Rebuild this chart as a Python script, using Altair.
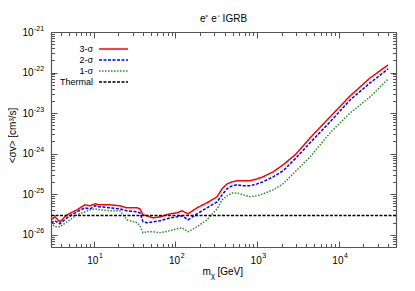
import altair as alt
import pandas as pd

FONT = "Liberation Sans"
AXC = "#555555"

# ---- data ----
mass = [3.0, 3.36, 3.86, 4.71, 6.24, 7.82, 9.0, 10.4, 11.9, 15.8, 21.0, 25.5,
        33.9, 36.8, 40.1, 44.9, 53.1, 64.7, 85.9, 104.5, 120.0, 142.6, 183.6,
        243.0, 323.0, 372.0, 428.0, 492.0, 566.0, 671.0, 818.0, 996.0, 1180.0,
        1564.0, 2073.0, 2911.0, 4440.0, 7800.0, 13700.0, 24100.0, 40000.0]
sigma3 = [2.34e-26, 2.77e-26, 2.09e-26, 3.11e-26, 4.13e-26, 5.48e-26, 5.18e-26,
          5.81e-26, 5.48e-26, 5.48e-26, 5.18e-26, 4.62e-26, 4.62e-26, 4.36e-26,
          3.11e-26, 2.94e-26, 2.62e-26, 2.77e-26, 3.29e-26, 3.48e-26, 3.90e-26,
          3.29e-26, 4.62e-26, 6.14e-26, 8.63e-26, 1.36e-25, 1.80e-25, 2.02e-25,
          2.14e-25, 2.14e-25, 2.14e-25, 2.39e-25, 2.69e-25, 3.56e-25, 5.30e-25,
          9.33e-25, 2.45e-24, 8.05e-24, 2.65e-23, 7.36e-23, 1.54e-22]
sigma2 = [1.98e-26, 2.21e-26, 1.87e-26, 2.62e-26, 3.69e-26, 4.62e-26, 4.36e-26,
          5.18e-26, 4.90e-26, 4.62e-26, 4.36e-26, 3.90e-26, 3.69e-26, 3.48e-26,
          2.09e-26, 1.98e-26, 2.09e-26, 2.21e-26, 2.62e-26, 2.77e-26, 2.94e-26,
          2.34e-26, 3.29e-26, 4.62e-26, 6.50e-26, 9.66e-26, 1.36e-25, 1.61e-25,
          1.71e-25, 1.61e-25, 1.61e-25, 1.80e-25, 2.02e-25, 2.69e-25, 3.77e-25,
          7.45e-25, 1.85e-24, 6.07e-24, 2.11e-23, 5.55e-23, 1.23e-22]
sigma1 = [1.98e-26, 1.57e-26, 1.57e-26, 2.09e-26, 3.11e-26, 3.69e-26, 4.13e-26,
          4.36e-26, 4.13e-26, 3.90e-26, 3.90e-26, 2.34e-26, 1.98e-26, 1.67e-26,
          1.12e-26, 1.19e-26, 1.19e-26, 1.12e-26, 1.26e-26, 1.41e-26, 1.49e-26,
          1.19e-26, 1.57e-26, 2.34e-26, 4.36e-26, 7.28e-26, 9.14e-26, 1.08e-25,
          1.08e-25, 9.66e-26, 8.63e-26, 9.14e-26, 1.02e-25, 1.28e-25, 1.80e-25,
          3.56e-25, 8.34e-25, 3.25e-24, 1.01e-23, 2.51e-23, 6.95e-23]
thermal_mass = [3.0, 50000.0]
thermal_value = [3e-26, 3e-26]

series_names = ["3-σ", "2-σ", "1-σ", "Thermal"]
series_colors = ["#ff0000", "#0000ff", "#2b8a2b", "#000000"]
series_dashes = [[1, 0], [3, 1.5], [1.5, 1.5], [3, 1.5]]

x_domain = [3, 50000]
y_domain = [5e-27, 1e-21]
x_major = [10, 100, 1000, 10000]
x_minor = [3, 4, 5, 6, 7, 8, 9, 20, 30, 40, 50, 60, 70, 80, 90,
           200, 300, 400, 500, 600, 700, 800, 900,
           2000, 3000, 4000, 5000, 6000, 7000, 8000, 9000,
           20000, 30000, 40000, 50000]
y_major = [1e-26, 1e-25, 1e-24, 1e-23, 1e-22, 1e-21]
y_minor = [5e-27, 6e-27, 7e-27, 8e-27, 9e-27,
           2e-26, 3e-26, 4e-26, 5e-26, 6e-26, 7e-26, 8e-26, 9e-26,
           2e-25, 3e-25, 4e-25, 5e-25, 6e-25, 7e-25, 8e-25, 9e-25,
           2e-24, 3e-24, 4e-24, 5e-24, 6e-24, 7e-24, 8e-24, 9e-24,
           2e-23, 3e-23, 4e-23, 5e-23, 6e-23, 7e-23, 8e-23, 9e-23,
           2e-22, 3e-22, 4e-22, 5e-22, 6e-22, 7e-22, 8e-22, 9e-22]

W, H = 345, 215

frames = {
    "3-σ": pd.DataFrame({"mass": mass, "sv": sigma3, "series": "3-σ"}),
    "2-σ": pd.DataFrame({"mass": mass, "sv": sigma2, "series": "2-σ"}),
    "1-σ": pd.DataFrame({"mass": mass, "sv": sigma1, "series": "1-σ"}),
    "Thermal": pd.DataFrame({"mass": thermal_mass, "sv": thermal_value, "series": "Thermal"}),
}

xs = alt.Scale(type="log", domain=x_domain, nice=False)
ys = alt.Scale(type="log", domain=y_domain, nice=False)

base_ax = dict(grid=False, labelFont=FONT, labelColor="black", titleFont=FONT,
               titleColor="black", titleFontWeight="normal", domainColor=AXC,
               tickColor=AXC, domainWidth=1.2, tickWidth=1, labelOverlap=False,
               labelFlush=False)

def label_axis(orient, values, expr, size, pad, **kw):
    return alt.Axis(orient=orient, values=values, labelExpr=expr, ticks=False,
                    tickSize=0, domain=False, labelFontSize=size, labelPadding=pad,
                    **base_ax, **kw)

def tick_axis(orient, values, size, domain, **kw):
    if "title" not in kw:
        kw["title"] = None
    return alt.Axis(orient=orient, values=values, labels=False, ticks=True,
                    tickSize=size, domain=domain, **base_ax, **kw)

EXP = "'' + round(log(datum.value) / LN10)"

x_axes = [
    label_axis("bottom", x_major, "'10'", 10, 13, labelBaseline="middle",
               labelAlign="center", labelOffset=-1.5, title="m", titleX=151,
               titleY=27.5, titleAlign="left", titleBaseline="alphabetic",
               titleFontSize=10),
    label_axis("bottom", x_major, EXP, 7, 8, labelBaseline="middle",
               labelAlign="left", labelOffset=4.7, title="χ", titleX=159.5,
               titleY=30, titleAlign="left", titleBaseline="alphabetic",
               titleFontSize=7.5),
    tick_axis("top", x_major, 6, True, offset=-H, title="[GeV]", titleX=166,
              titleY=27.5, titleAlign="left", titleBaseline="alphabetic",
              titleFontSize=10),
    tick_axis("top", x_minor, 3.5, False, offset=-H),
    tick_axis("bottom", x_major, 6, True, offset=-H),
    tick_axis("bottom", x_minor, 3.5, False, offset=-H),
]
y_axes = [
    label_axis("left", y_major, "'10'", 10, 18, labelBaseline="middle",
               labelAlign="right", title="<σv> [cm³/s]", titleX=-38.5,
               titleY=103, titleAlign="center", titleBaseline="middle",
               titleAngle=270, titleFontSize=10),
    label_axis("left", y_major, EXP, 7, 17.5, labelBaseline="middle",
               labelAlign="left", labelOffset=-4, title=None),
    tick_axis("right", y_major, 6, True, offset=-W),
    tick_axis("right", y_minor, 3.5, False, offset=-W),
    tick_axis("left", y_major, 6, True, offset=-W),
    tick_axis("left", y_minor, 3.5, False, offset=-W),
]

legend = alt.Legend(title=None, orient="none", legendX=30, legendY=11,
                    symbolType="M2.4,0H8.2", symbolSize=100, symbolStrokeWidth=1.5,
                    symbolOffset=0, labelAlign="right", labelOffset=0,
                    labelFont=FONT, labelFontSize=9, labelColor="black",
                    rowPadding=0, padding=0)

color = alt.Color("series:N", scale=alt.Scale(domain=series_names, range=series_colors),
                  legend=legend)
dash = alt.StrokeDash("series:N", scale=alt.Scale(domain=series_names, range=series_dashes),
                      legend=legend)

layers = []
order = ["3-σ", "2-σ", "1-σ", "Thermal", "3-σ", "3-σ"]
for i, name in enumerate(order):
    visible = i < 4
    ch = alt.Chart(frames[name]).mark_line(strokeWidth=1.5, clip=True,
                                           opacity=1 if visible else 0)
    enc = dict(x=alt.X("mass:Q", scale=xs, axis=x_axes[i]),
               y=alt.Y("sv:Q", scale=ys, axis=y_axes[i]))
    if visible:
        enc["color"] = color
        enc["strokeDash"] = dash
    layers.append(ch.encode(**enc))

chart = alt.layer(*layers).resolve_axis(x="independent", y="independent").properties(
    width=W, height=H,
    autosize=alt.AutoSizeParams(type="none"),
    padding={"left": 43, "top": 24, "right": 11, "bottom": 36},
    background="white",
    title=alt.Title("e⁺ e⁻ IGRB", font=FONT, fontSize=10, fontWeight="normal",
                    color="black", anchor="middle", offset=0),
).configure_view(strokeWidth=0)

chart.save("out.html", embed_options={"renderer": "svg", "actions": False})
